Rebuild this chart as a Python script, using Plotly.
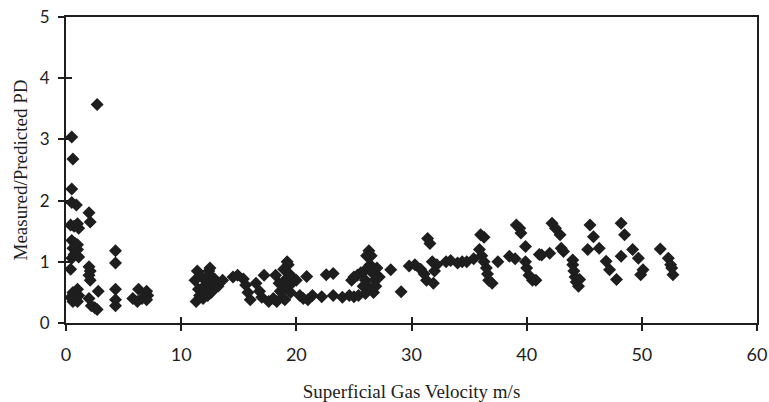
import plotly.graph_objects as go

# Superficial gas velocity (m/s)
velocity = [
    0.5, 0.6, 0.5, 0.5, 0.9, 0.4, 0.7, 1.0, 1.1, 0.5, 0.8, 1.0, 0.6, 1.0, 0.7, 1.1, 0.5, 0.4, 0.6, 0.4, 0.8, 1.0, 1.1, 0.6, 1.0,
    2.0, 2.1, 2.0, 2.1, 2.0, 2.1, 2.0, 2.7, 2.8, 2.2, 2.7, 2.5,
    4.3, 4.3, 4.3, 4.3, 4.3, 5.8, 6.3, 6.2, 6.6, 7.0, 7.1, 7.0,
    11.2, 11.4, 11.5, 11.3, 11.6, 11.8, 12.0, 12.0, 12.2, 12.4, 12.5, 12.5, 12.6, 12.6, 12.8, 12.9, 13.0, 13.2, 12.3, 13.6, 11.9,
    14.5, 14.9, 15.4, 15.6, 15.8, 16.0, 16.5, 16.8, 17.0, 17.2, 17.6, 18.0,
    18.2, 18.5, 18.6, 18.8, 18.9, 19.0, 19.1, 19.2, 19.3, 19.4, 19.5, 19.6, 19.8, 18.3, 19.0, 20.0, 20.3, 20.6, 21.0, 21.4, 20.9, 22.6,
    22.2, 23.2, 23.2, 24.0, 24.6, 25.0, 25.4, 26.0, 24.8, 25.0, 25.3, 25.6, 25.9, 26.0, 26.1, 26.3, 26.5, 26.4, 26.5, 26.7, 26.8, 26.9, 26.7, 26.2, 27.0, 27.2, 25.8, 28.2, 29.1,
    29.8, 30.3, 30.8, 31.1, 31.3, 31.6, 31.4, 31.8, 31.9, 32.0, 32.2, 33.0, 33.4, 34.0, 34.4, 34.8,
    35.4, 35.9, 36.0, 36.3, 36.1, 36.3, 36.5, 36.6, 36.7, 37.0, 37.5, 38.5, 39.0, 39.1, 39.4, 39.5, 39.9, 39.9, 40.0, 40.2, 40.5, 40.8, 41.1, 41.3, 42.0,
    42.2, 42.5, 42.9, 43.0, 43.2, 44.0, 44.0, 44.1, 44.2, 44.3, 44.6, 44.5, 45.5, 45.8, 45.3, 46.3, 46.9, 47.2, 47.8, 48.2, 48.5, 48.2, 49.2, 49.7, 50.1, 49.9, 51.6, 52.3, 52.5, 52.6, 52.7,
]

# Measured / predicted pressure drop
ratio = [
    3.04, 2.68, 2.19, 1.97, 1.93, 1.60, 1.58, 1.62, 1.55, 1.35, 1.30, 1.28, 1.22, 1.20, 1.12, 1.08, 1.06, 0.88, 0.50, 0.42, 0.38, 0.55, 0.45, 0.35, 0.35,
    1.80, 1.65, 0.92, 0.85, 0.78, 0.70, 0.40, 3.57, 0.52, 0.28, 0.22, 0.25,
    1.18, 0.98, 0.55, 0.38, 0.28, 0.40, 0.55, 0.35, 0.40, 0.52, 0.45, 0.38,
    0.70, 0.85, 0.55, 0.35, 0.45, 0.75, 0.60, 0.50, 0.68, 0.85, 0.90, 0.78, 0.62, 0.50, 0.55, 0.72, 0.65, 0.60, 0.45, 0.70, 0.40,
    0.75, 0.78, 0.72, 0.62, 0.50, 0.38, 0.65, 0.52, 0.42, 0.78, 0.35, 0.40,
    0.78, 0.65, 0.52, 0.42, 0.88, 0.70, 0.60, 1.00, 0.95, 0.80, 0.50, 0.65, 0.72, 0.35, 0.38, 0.70, 0.45, 0.40, 0.38, 0.45, 0.76, 0.79,
    0.43, 0.45, 0.81, 0.42, 0.45, 0.43, 0.45, 0.48, 0.70, 0.75, 0.78, 0.82, 0.85, 0.70, 1.10, 1.18, 1.10, 0.95, 0.88, 0.80, 0.70, 0.60, 0.50, 0.60, 0.90, 0.75, 0.60, 0.87, 0.51,
    0.93, 0.95, 0.88, 0.80, 0.70, 1.30, 1.38, 1.00, 0.65, 0.85, 0.95, 1.00, 1.02, 0.98, 1.00, 1.00,
    1.05, 1.20, 1.44, 1.40, 1.10, 1.00, 0.90, 0.80, 0.70, 0.65, 1.00, 1.09, 1.05, 1.60, 1.55, 1.47, 1.25, 1.00, 0.90, 0.78, 0.70, 0.70, 1.12, 1.11, 1.14,
    1.63, 1.55, 1.44, 1.22, 1.17, 1.03, 0.95, 0.85, 0.75, 0.67, 0.71, 0.60, 1.60, 1.41, 1.20, 1.22, 1.01, 0.87, 0.71, 1.63, 1.44, 1.09, 1.20, 1.06, 0.87, 0.79, 1.21, 1.06, 0.95, 0.90, 0.79,
]

x_ticks = [0, 10, 20, 30, 40, 50, 60]
y_ticks = [0, 1, 2, 3, 4, 5]

ink = "#1e1e1e"
serif = "Liberation Serif, Times New Roman, serif"
sans = "Lato, Open Sans, sans-serif"

fig = go.Figure()
fig.add_trace(go.Scatter(
    x=velocity, y=ratio, mode="markers",
    marker=dict(symbol="diamond", size=10, color=ink, line=dict(width=0)),
    showlegend=False, hoverinfo="x+y",
))

fig.update_layout(
    width=769, height=402,
    margin=dict(l=66, r=12, t=17, b=79, autoexpand=False),
    paper_bgcolor="white", plot_bgcolor="white",
    xaxis=dict(
        range=[0, 60], tickvals=x_ticks, ticktext=[str(v) for v in x_ticks],
        showgrid=False, zeroline=False, showline=True, linecolor=ink, linewidth=2,
        mirror=True, ticks="outside", ticklen=6, tickwidth=2, tickcolor=ink,
        tickfont=dict(family=sans, size=18, color=ink), ticklabelstandoff=8,
        automargin=False,
        title=dict(text="Superficial Gas Velocity m/s", font=dict(family=serif, size=19, color=ink), standoff=21),
    ),
    yaxis=dict(
        range=[0, 5], tickvals=y_ticks, ticktext=[str(v) for v in y_ticks],
        showgrid=False, zeroline=False, showline=True, linecolor=ink, linewidth=2,
        mirror=True, ticks="outside", ticklen=6, tickwidth=2, tickcolor=ink,
        tickfont=dict(family=sans, size=17, color=ink), ticklabelstandoff=5,
        automargin=False,
        title=dict(text="Measured/Predicted PD", font=dict(family=serif, size=19, color=ink), standoff=7),
    ),
    xaxis2=dict(
        range=[0, 60], tickvals=x_ticks, overlaying="x", side="bottom", anchor="y",
        showgrid=False, zeroline=False, showline=False, showticklabels=False,
        ticks="inside", ticklen=6, tickwidth=2, tickcolor=ink, automargin=False,
    ),
    yaxis2=dict(
        range=[0, 5], tickvals=y_ticks, overlaying="y", side="left", anchor="x",
        showgrid=False, zeroline=False, showline=False, showticklabels=False,
        ticks="inside", ticklen=6, tickwidth=2, tickcolor=ink, automargin=False,
    ),
)

# invisible helper trace so the secondary (inside-tick) axes render
fig.add_trace(go.Scatter(x=[None], y=[None], xaxis="x2", yaxis="y2", showlegend=False, hoverinfo="skip"))

fig.write_html(
    "out.html",
    config={"displayModeBar": False},
    post_script="document.body.style.margin='0px';document.body.style.overflow='hidden';",
)
